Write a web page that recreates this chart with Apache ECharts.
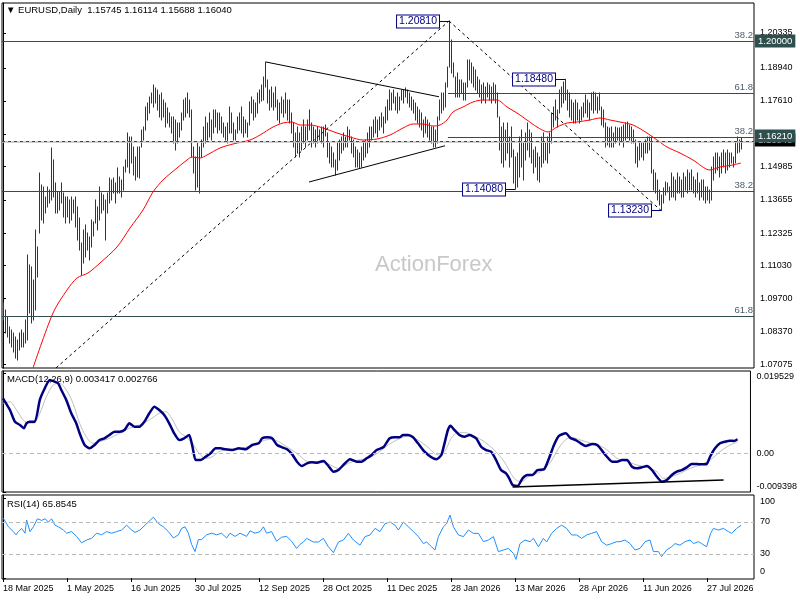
<!DOCTYPE html>
<html><head><meta charset="utf-8">
<script src="https://cdn.jsdelivr.net/npm/echarts@6/dist/echarts.min.js"></script>
<style>html,body{margin:0;padding:0;background:#fff}#c{width:800px;height:600px}</style>
</head><body><div id="c"></div><script>
// ---- daily bar highs / lows (EURUSD) ----
const highs = [
1.0953,1.0925,1.0897,1.0857,1.0845,1.0833,1.0817,1.0805,1.0833,1.0845,
1.0833,1.0885,1.1145,1.1105,1.1097,1.1045,1.1245,1.1177,1.1473,1.1425,
1.1417,1.1377,1.1417,1.1405,1.1573,1.1525,1.1433,1.1397,1.1397,1.1433,
1.1393,1.1377,1.1377,1.1365,1.1377,1.1365,1.1377,1.1337,1.1293,1.1193,
1.1245,1.1265,1.1233,1.1217,1.1285,1.1277,1.1365,1.1337,1.1417,1.1393,
1.1385,1.1365,1.1393,1.1453,1.1445,1.1453,1.1433,1.1493,1.1457,1.1445,
1.1497,1.1525,1.1633,1.1617,1.1617,1.1577,1.1537,1.1577,1.1577,1.1645,
1.1657,1.1737,1.1753,1.1777,1.1793,1.1825,1.1813,1.1805,1.1785,1.1793,
1.1765,1.1753,1.1733,1.1713,1.1697,1.1697,1.1685,1.1673,1.1673,1.1713,
1.1765,1.1773,1.1793,1.1765,1.1725,1.1577,1.1537,1.1593,1.1577,1.1605,
1.1657,1.1697,1.1673,1.1713,1.1685,1.1725,1.1725,1.1713,1.1713,1.1697,
1.1673,1.1657,1.1673,1.1737,1.1713,1.1673,1.1645,1.1697,1.1713,1.1737,
1.1697,1.1685,1.1673,1.1757,1.1777,1.1765,1.1753,1.1793,1.1805,1.1825,
1.1857,1.1917,1.1845,1.1805,1.1817,1.1793,1.1817,1.1765,1.1753,1.1777,
1.1765,1.1793,1.1765,1.1765,1.1713,1.1673,1.1633,1.1657,1.1633,1.1657,
1.1685,1.1657,1.1685,1.1725,1.1673,1.1657,1.1645,1.1657,1.1645,1.1657,
1.1657,1.1665,1.1633,1.1593,1.1577,1.1553,1.1525,1.1593,1.1605,1.1617,
1.1633,1.1617,1.1657,1.1645,1.1617,1.1605,1.1577,1.1565,1.1553,1.1577,
1.1593,1.1605,1.1633,1.1657,1.1657,1.1685,1.1697,1.1685,1.1697,1.1713,
1.1697,1.1737,1.1765,1.1805,1.1793,1.1805,1.1777,1.1793,1.1777,1.1805,
1.1805,1.1813,1.1805,1.1793,1.1777,1.1765,1.1753,1.1737,1.1725,1.1713,
1.1685,1.1697,1.1685,1.1673,1.1657,1.1657,1.1645,1.1697,1.1765,1.1793,
1.1793,1.1833,1.1897,1.2081,1.2005,1.1913,1.1857,1.1873,1.1845,1.1845,
1.1833,1.1833,1.1925,1.1925,1.1913,1.1897,1.1885,1.1857,1.1845,1.1825,
1.1833,1.1817,1.1833,1.1825,1.1817,1.1833,1.1825,1.1793,1.1697,1.1657,
1.1673,1.1645,1.1673,1.1617,1.1657,1.1565,1.1537,1.1553,1.1617,1.1645,
1.1593,1.1633,1.1673,1.1645,1.1633,1.1565,1.1577,1.1553,1.1537,1.1617,
1.1633,1.1593,1.1617,1.1633,1.1713,1.1737,1.1765,1.1725,1.1805,1.1817,
1.1837,1.1848,1.1805,1.1793,1.1765,1.1753,1.1765,1.1753,1.1725,1.1737,
1.1753,1.1785,1.1765,1.1753,1.1793,1.1797,1.1793,1.1777,1.1793,1.1737,
1.1725,1.1673,1.1657,1.1653,1.1657,1.1633,1.1657,1.1653,1.1653,1.1657,
1.1665,1.1673,1.1677,1.1665,1.1657,1.1645,1.1605,1.1577,1.1593,1.1593,
1.1593,1.1605,1.1617,1.1617,1.1617,1.1485,1.1473,1.1445,1.1405,1.1385,
1.1413,1.1437,1.1433,1.1417,1.1473,1.1457,1.1445,1.1473,1.1457,1.1445,
1.1473,1.1457,1.1485,1.1473,1.1485,1.1457,1.1445,1.1473,1.1433,1.1445,
1.1445,1.1417,1.1417,1.1405,1.1497,1.1537,1.1553,1.1553,1.1537,1.1553,
1.1565,1.1553,1.1565,1.1553,1.1553,1.1537,1.1593,1.1617,1.1605,1.16114
];
const lows = [
1.0885,1.0833,1.0817,1.0793,1.0777,1.0757,1.0733,1.0725,1.0765,1.0777,
1.0777,1.0793,1.0805,1.0913,1.0873,1.0885,1.0925,1.1057,1.1233,1.1285,
1.1273,1.1313,1.1337,1.1353,1.1365,1.1377,1.1313,1.1313,1.1325,1.1353,
1.1297,1.1273,1.1297,1.1273,1.1285,1.1313,1.1257,1.1205,1.1165,1.1065,
1.1113,1.1137,1.1165,1.1125,1.1177,1.1221,1.1273,1.1245,1.1285,1.1313,
1.1325,1.1205,1.1313,1.1353,1.1365,1.1393,1.1353,1.1393,1.1393,1.1377,
1.1405,1.1477,1.1497,1.1473,1.1513,1.1465,1.1445,1.1457,1.1453,1.1577,
1.1605,1.1645,1.1685,1.1713,1.1753,1.1737,1.1753,1.1725,1.1697,1.1685,
1.1697,1.1657,1.1673,1.1657,1.1633,1.1593,1.1565,1.1593,1.1617,1.1645,
1.1685,1.1697,1.1713,1.1697,1.1537,1.1473,1.1405,1.1417,1.1393,1.1537,
1.1577,1.1593,1.1605,1.1617,1.1605,1.1633,1.1657,1.1633,1.1645,1.1633,
1.1617,1.1605,1.1593,1.1633,1.1633,1.1605,1.1605,1.1633,1.1645,1.1633,
1.1617,1.1633,1.1617,1.1665,1.1713,1.1685,1.1697,1.1713,1.1753,1.1761,
1.1765,1.1817,1.1753,1.1725,1.1737,1.1725,1.1737,1.1685,1.1673,1.1713,
1.1697,1.1713,1.1685,1.1673,1.1633,1.1577,1.1537,1.1553,1.1537,1.1565,
1.1593,1.1577,1.1605,1.1645,1.1577,1.1593,1.1577,1.1593,1.1605,1.1593,
1.1577,1.1621,1.1537,1.1513,1.1497,1.1497,1.1465,1.1485,1.1525,1.1553,
1.1565,1.1577,1.1577,1.1605,1.1553,1.1537,1.1497,1.1497,1.1493,1.1497,
1.1525,1.1537,1.1553,1.1577,1.1605,1.1617,1.1633,1.1617,1.1645,1.1657,
1.1633,1.1673,1.1685,1.1725,1.1725,1.1753,1.1725,1.1713,1.1725,1.1765,
1.1753,1.1777,1.1753,1.1737,1.1725,1.1713,1.1685,1.1673,1.1657,1.1645,
1.1617,1.1633,1.1617,1.1605,1.1593,1.1577,1.1577,1.1593,1.1685,1.1713,
1.1725,1.1737,1.1817,1.1897,1.1873,1.1857,1.1777,1.1777,1.1777,1.1793,
1.1765,1.1765,1.1817,1.1845,1.1833,1.1817,1.1805,1.1793,1.1777,1.1753,
1.1765,1.1753,1.1777,1.1765,1.1753,1.1765,1.1753,1.1697,1.1565,1.1513,
1.1497,1.1525,1.1553,1.1497,1.1537,1.1433,1.1408,1.1417,1.1457,1.1497,
1.1445,1.1525,1.1565,1.1537,1.1513,1.1473,1.1497,1.1445,1.1437,1.1497,
1.1513,1.1525,1.1513,1.1553,1.1593,1.1657,1.1685,1.1657,1.1713,1.1737,
1.1753,1.1765,1.1725,1.1697,1.1685,1.1673,1.1673,1.1685,1.1673,1.1685,
1.1697,1.1713,1.1697,1.1685,1.1725,1.1713,1.1725,1.1713,1.1725,1.1665,
1.1657,1.1577,1.1585,1.1577,1.1577,1.1577,1.1593,1.1605,1.1585,1.1597,
1.1577,1.1605,1.1613,1.1605,1.1593,1.1593,1.1513,1.1497,1.1525,1.1537,
1.1525,1.1553,1.1553,1.1565,1.1473,1.1405,1.1393,1.1365,1.1345,1.1323,
1.1353,1.1385,1.1397,1.1365,1.1377,1.1377,1.1365,1.1393,1.1393,1.1377,
1.1377,1.1405,1.1393,1.1405,1.1405,1.1393,1.1377,1.1393,1.1365,1.1377,
1.1365,1.1353,1.1365,1.1353,1.1365,1.1445,1.1473,1.1485,1.1457,1.1473,
1.1497,1.1473,1.1485,1.1497,1.1513,1.1497,1.1513,1.1553,1.1557,1.15688
];
// ---- moving average (red) [bar index, price] ----
const maLine = [[15,1.0693],[25,1.0913],[32,1.1005],[37,1.1053],[42.5,1.1073],[48.5,1.1113],[57,1.1177],[63.5,1.1253],[70,1.1325],[75,1.1397],[80,1.1445],[87,1.1493],[92,1.1525],[94.5,1.1537],[98.5,1.1533],[102,1.1545],[108.5,1.1573],[115,1.1589],[123.5,1.1605],[128.5,1.1625],[135,1.1657],[140,1.1673],[144.5,1.1677],[148.5,1.1665],[153.5,1.1665],[160,1.1653],[167,1.1633],[173.5,1.1617],[180,1.1605],[187,1.1609],[193.5,1.1625],[200,1.1653],[205,1.1669],[210,1.1669],[215,1.1661],[218.5,1.1665],[222,1.1685],[225,1.1717],[230,1.1737],[235,1.1757],[240,1.1765],[247,1.1765],[252,1.1737],[257,1.1713],[262,1.1685],[267,1.1657],[272.5,1.1637],[277,1.1657],[282,1.1673],[287,1.1677],[293.5,1.1685],[298.5,1.1693],[303.5,1.1685],[308.5,1.1677],[315,1.1665],[322,1.1633],[327,1.1605],[332,1.1577],[338.5,1.1553],[345,1.1525],[353.5,1.1485],[358.5,1.1497],[365,1.1505],[369,1.1513]];
// ---- MACD(12,26,9) main & signal ----
const macdLine = [[0,0.01337],[3.5,0.01052],[6,0.00768],[8.5,0.00688],[10.5,0.00608],[11.8,0.00729],[13.5,0.00768],[16,0.00768],[18.5,0.01296],[21,0.0158],[23.5,0.01782],[26,0.0174],[27.7,0.01701],[29.3,0.01539],[31.8,0.01296],[34.3,0.00972],[36.8,0.00729],[38.5,0.00486],[41,0.00202],[43.5,0.00122],[46,0.00202],[48.5,0.00323],[51,0.00365],[53.5,0.00445],[56,0.00525],[58.5,0.00525],[61,0.00566],[63.5,0.00729],[66,0.00647],[68.5,0.00647],[71,0.00768],[73.5,0.00972],[76,0.01133],[78.5,0.01052],[81,0.00931],[83.5,0.00729],[86,0.00486],[88.5,0.00323],[91,0.00365],[93.5,0.00445],[95.2,0.0016],[96.8,-0.00163],[99.3,-0.00163],[101.8,-0.00083],[104.3,0],[106.8,0.00122],[109.3,0.00122],[111.8,0.00097],[115.2,0.0008],[118.5,0.00122],[121.8,0.00097],[125.2,0.00202],[128.5,0.00243],[130.2,0.00365],[132.7,0.00389],[135.2,0.00365],[137.7,0.00202],[140.2,0.00146],[142.7,0.00097],[145.2,-0.0002],[147.7,-0.00204],[150.2,-0.00309],[152.7,-0.00243],[155.2,-0.00219],[157.7,-0.00228],[161,-0.00187],[163.5,-0.00309],[166,-0.00447],[168.5,-0.00406],[171,-0.00284],[174.3,-0.00146],[177.7,-0.00204],[180.2,-0.00204],[182.7,-0.00122],[185.2,-0.00041],[187.7,0.0008],[191,0.00146],[194.3,0.00365],[196.8,0.00389],[199.3,0.00389],[201,0.00445],[203.5,0.00445],[206,0.00389],[208.5,0.00243],[211.8,0.00039],[215.2,-0.00097],[217.7,-0.00146],[220.2,-0.00041],[221.8,0.00243],[223.5,0.00566],[224.8,0.00671],[226.8,0.00566],[229.3,0.00445],[231.8,0.00404],[234.3,0.00445],[237.7,0.00365],[240.2,0.0016],[242.7,0.0008],[245.2,0.00039],[247.7,-0.00163],[250.2,-0.00406],[252.7,-0.00486],[254.3,-0.00608],[256,-0.00771],[258.5,-0.00795],[261,-0.00608],[263.5,-0.00527],[266,-0.00527],[268.5,-0.00406],[271.8,-0.00389],[274.3,-0.00122],[276.8,0.00202],[279.3,0.00421],[282.7,0.00486],[285.2,0.00365],[287.7,0.00323],[290.2,0.00243],[292.7,0.00177],[296,0.00226],[298.5,0.00202],[301,0.0006],[303.5,-0.0009],[306,-0.00204],[308.5,-0.00204],[311,-0.00163],[313.5,-0.00163],[316,-0.00326],[318.5,-0.00365],[321,-0.0034],[323.5,-0.00309],[326,-0.00406],[328.5,-0.00569],[331,-0.0069],[333.5,-0.00649],[336,-0.00527],[338.5,-0.00447],[341,-0.00406],[343.5,-0.0034],[346,-0.0026],[348.5,-0.0026],[351,-0.00267],[353.5,-0.0026],[355.2,-0.00083],[357.7,0.00122],[360.2,0.00243],[362.7,0.00282],[365.2,0.00306],[367.2,0.00299],[369,0.003417]];
const signalLine = [[0,0.01215],[3.5,0.01254],[6.8,0.01052],[11,0.00768],[15.2,0.00729],[18.5,0.00972],[21.8,0.01376],[25.2,0.0166],[28.5,0.01701],[31.8,0.01539],[35.2,0.01215],[38.5,0.00729],[41.8,0.00404],[45.2,0.00243],[48.5,0.00282],[53.5,0.00365],[58.5,0.00486],[63.5,0.00608],[68.5,0.00688],[73.5,0.00809],[78.5,0.00972],[81.8,0.01011],[85.2,0.00809],[88.5,0.00525],[91.8,0.00404],[95.2,0.00243],[98.5,0],[101.8,-0.00122],[105.2,-0.00083],[108.5,0.00039],[111.8,0.0008],[115.2,0.0008],[118.5,0.00097],[121.8,0.00146],[125.2,0.00202],[128.5,0.00258],[131.8,0.00323],[135.2,0.0034],[138.5,0.00282],[141.8,0.0018],[145.2,0.0008],[148.5,-0.0004],[153.5,-0.00204],[158.5,-0.00204],[163.5,-0.0026],[168.5,-0.00365],[173.5,-0.00243],[178.5,-0.00163],[183.5,-0.00122],[188.5,0.00015],[193.5,0.00202],[198.5,0.0034],[203.5,0.00421],[208.5,0.00323],[213.5,0.00146],[218.5,-0.00041],[221.8,0.00039],[225.2,0.00365],[228.5,0.00501],[232,0.00501],[236.8,0.00421],[241.8,0.00282],[246.8,0.0008],[251.8,-0.00204],[256.8,-0.00608],[260.2,-0.0069],[265.2,-0.00527],[270.2,-0.00447],[275.2,-0.00204],[280.2,0.00202],[285.2,0.00389],[290.2,0.00323],[295.2,0.00243],[300.2,0.00177],[303.5,0.0008],[308.5,-0.00122],[313.5,-0.00204],[318.5,-0.00284],[323.5,-0.0034],[328.5,-0.00447],[331.8,-0.00608],[335.2,-0.00583],[340.2,-0.00486],[345.2,-0.00365],[350.2,-0.00284],[355.2,-0.00163],[360.2,0.00039],[365.2,0.00202],[369,0.002766]];
const macdDivergence = [[256,-0.0082],[362,-0.0065]];
// ---- RSI(14) ----
const rsiLine = [[0.2,74.6],[2.7,64],[5.2,58],[6.5,54],[7.7,58],[9.3,62],[11,56],[11.8,72.5],[13.5,58],[15.2,64],[17.2,74],[19.3,72],[21,74],[22.7,70],[24.3,74],[26,66],[27.7,64],[30.2,60],[31.8,56],[34.3,58],[36.8,52],[39.3,44],[41.8,47.5],[44.3,49.6],[46.8,56],[49.3,54],[51.8,58],[54.3,56],[56.8,58],[59.3,60],[61.8,66],[64.3,60],[66,57],[68.5,60],[71,66],[73.5,72],[75.2,76],[77.7,68],[80.2,64],[82.7,58],[85.2,50],[87.7,54],[89.3,62],[91,64],[92.7,56],[94.3,42],[96,33],[97.7,48],[99.3,48],[101.8,54],[104.3,56],[106.8,54],[109.3,56],[111.8,50],[113.5,56],[116,52],[118.5,56],[121.8,52],[123.5,59],[126,56],[128.5,58],[130.2,64],[131.8,56],[134.3,58],[136.8,46],[139.3,51],[141.8,52],[144.3,46],[146.8,37],[148.5,42],[150.2,45],[151.8,49.6],[155.2,45],[157.7,45],[160.2,49.6],[162.7,39],[165.2,31.7],[167.7,45],[170.2,47.5],[172.7,55.8],[175.2,47.5],[178.5,41],[181,51.7],[183.5,53.8],[186,62],[188.5,58],[191,68],[193.5,70],[196,66],[197.7,60],[200.2,70],[202.7,64],[205.2,58],[207.7,51.7],[210.2,43],[211.8,45],[214.3,39],[216,35],[217.7,51.7],[220.2,64],[221.8,68],[223.5,78.7],[225.2,64],[227.7,53.8],[230.2,51.7],[232.7,60],[235.2,55.8],[237.7,55.8],[240.2,45.4],[242.7,47.5],[245.2,51.7],[247.7,33],[250.2,35],[252.7,37],[255.2,30.8],[256.5,23.3],[258.5,43],[261,47.5],[263.5,45.4],[265.2,49.6],[267.7,39],[270.2,49.6],[271.8,45],[274.3,55.8],[276.8,62],[279.3,66],[281.8,62],[284.3,53.8],[286.8,53.8],[289.3,49.6],[291.8,53.8],[294.3,55.8],[296.8,58],[299.3,45.4],[301.8,41],[304.3,43],[306.8,45.4],[308.5,45.4],[311,47.5],[313.5,43],[316,35],[318.5,37],[321,45.4],[323.5,47.5],[325.2,33],[327.7,33],[329.3,26.7],[331.8,35],[334.3,39],[336,43],[338.5,41],[341,45.4],[343.5,47.5],[345.2,43],[347.7,45.4],[349.3,43],[351.8,39],[353.8,55.8],[355.2,62],[357.7,60],[360.2,62],[362.7,58],[364.3,55.8],[366.8,62],[369,65.85]];
// ---- axis ticks / labels ----
const dateIdx = [0,32,64,96,128,160,192,224,256,288,320,352];
const dateLabels = ['18 Mar 2025','1 May 2025','16 Jun 2025','30 Jul 2025','12 Sep 2025','28 Oct 2025','11 Dec 2025','28 Jan 2026','13 Mar 2026','28 Apr 2026','11 Jun 2026','27 Jul 2026'];
const priceTicks = [1.07075,1.0837,1.097,1.1103,1.12325,1.13655,1.14985,1.1628,1.1761,1.1894,1.20335];
const macdTicks = [0.019529, 0, -0.009398];
const rsiTicks = [100, 70, 30, 0];
const rsiLevels = [70, 30];
// ---- drawn objects ----
const fibFull = [1.2022, 1.1352, 1.0901];
const fibFullNames = ['38.2','38.2','61.8'];
const fibPart = [1.1793, 1.16142];
const fibPartNames = ['61.8','38.2'];
const fibPartStart = 222.5;
const roundLevel = 1.2000, markLevel = 1.1621, bidPrice = 1.1604;
const tagValues = [roundLevel, bidPrice, markLevel];
const tagColors = ['#2f4f4f', '#000000', '#2f4f4f'];
const swingIdx = [223, 281, 256, 329];
const swingVal = [1.2081, 1.1848, 1.1408, 1.1323];
const dashedTrends = [[[26.5,1.0693],[223,1.2081]], [[223,1.2081],[329,1.1323]]];
const solidTrends = [[[131.5,1.1917],[218,1.1778]], [[153,1.1437],[221,1.1582]]];
const titleText = '▼ EURUSD,Daily  1.15745 1.16114 1.15688 1.16040';
const macdTitle = 'MACD(12,26,9) 0.003417 0.002766';
const rsiTitle = 'RSI(14) 65.8545';

const FONT = '"Liberation Sans", "DejaVu Sans", Arial, sans-serif';
const XMIN = -0.5, XMAX = 375.5;
const barData = highs.map((h, i) => [i, lows[i], h]);

const fibLabel = (t) => ({show: true, position: 'insideEndTop', formatter: t, color: '#4d5d6d', fontSize: 9.5, fontFamily: FONT, distance: 1});
const mainMarks = [];
fibFull.forEach((v, i) => mainMarks.push({yAxis: v, lineStyle: {color: '#2f4f4f', type: 'solid', width: 1}, label: fibLabel(fibFullNames[i])}));
fibPart.forEach((v, i) => mainMarks.push([{coord: [fibPartStart, v], lineStyle: {color: '#2f4f4f', type: 'solid', width: 1}, label: fibLabel(fibPartNames[i])}, {coord: [XMAX, v]}]));
dashedTrends.forEach(t => mainMarks.push([{coord: t[0], lineStyle: {color: '#000', type: [3,3], width: 1}, label: {show: false}}, {coord: t[1]}]));
solidTrends.forEach(t => mainMarks.push([{coord: t[0], lineStyle: {color: '#000', type: 'solid', width: 1}, label: {show: false}}, {coord: t[1]}]));
mainMarks.push({yAxis: roundLevel, lineStyle: {color: '#2f4f4f', type: [3,3], width: 1}, label: {show: false}});
mainMarks.push({yAxis: bidPrice, lineStyle: {color: '#c0c0c0', type: 'solid', width: 1.5}, label: {show: false}});
mainMarks.push({yAxis: markLevel, lineStyle: {color: '#2f4f4f', type: [3,3], width: 1}, label: {show: false}});

const axisCommon = {type: 'value', position: 'right', splitLine: {show: false},
  axisLine: {show: true, lineStyle: {color: '#000', width: 1}}};
const lbl = {fontSize: 9, color: '#000', fontFamily: FONT};

const option = {
  animation: false,
  backgroundColor: '#fff',
  textStyle: {fontFamily: FONT},
  title: [
    {text: titleText, left: 6, top: 5, padding: 0, textStyle: {fontSize: 9.5, fontWeight: 'normal', color: '#000', fontFamily: FONT}},
    {text: macdTitle, left: 7, top: 374, padding: 0, textStyle: {fontSize: 9.5, fontWeight: 'normal', color: '#000', fontFamily: FONT}},
    {text: rsiTitle, left: 7, top: 499, padding: 0, textStyle: {fontSize: 9.5, fontWeight: 'normal', color: '#000', fontFamily: FONT}}
  ],
  graphic: [{type: 'text', left: 375, top: 254, z: 0, silent: true,
    style: {text: 'ActionForex', font: '22px "Liberation Sans", Arial, sans-serif', fill: '#c8c8c8'}}],
  grid: [
    {left: 2, top: 3, width: 752, height: 365, show: true, borderColor: '#000', borderWidth: 1, backgroundColor: 'transparent'},
    {left: 2, top: 371, width: 752, height: 121, show: true, borderColor: '#000', borderWidth: 1},
    {left: 2, top: 495, width: 752, height: 84, show: true, borderColor: '#000', borderWidth: 1}
  ],
  xAxis: [
    {gridIndex: 0, type: 'value', min: XMIN, max: XMAX, show: false},
    {gridIndex: 1, type: 'value', min: XMIN, max: XMAX, show: false},
    {gridIndex: 2, type: 'value', min: XMIN, max: XMAX, position: 'bottom', splitLine: {show: false},
      axisLine: {show: false},
      axisTick: {show: true, length: 4, customValues: dateIdx, lineStyle: {color: '#000'}},
      axisLabel: Object.assign({customValues: dateIdx, align: 'left', margin: 5,
        formatter: v => dateLabels[dateIdx.indexOf(Math.round(v))] || ''}, lbl)}
  ],
  yAxis: [
    Object.assign({}, axisCommon, {gridIndex: 0, min: 1.0693, max: 1.2153,
      axisTick: {show: true, length: 3, customValues: priceTicks, lineStyle: {color: '#000'}},
      axisLabel: Object.assign({customValues: priceTicks, margin: 6, formatter: v => v.toFixed(5)}, lbl)}),
    Object.assign({}, axisCommon, {gridIndex: 1, min: -0.0094, max: 0.0200,
      axisTick: {show: true, length: 3, customValues: macdTicks, lineStyle: {color: '#000'}},
      axisLabel: Object.assign({customValues: macdTicks, margin: 6,
        formatter: v => v === 0 ? '{m|0.00}' : (v > 0 ? '{t|' + v.toFixed(6) + '}' : '{b|' + v.toFixed(6) + '}'),
        rich: {t: {padding: [8,0,0,0], fontSize: 9, color: '#000', fontFamily: FONT},
               b: {padding: [0,0,10,0], fontSize: 9, color: '#000', fontFamily: FONT},
               m: {fontSize: 9, color: '#000', fontFamily: FONT}}}, lbl)}),
    Object.assign({}, axisCommon, {gridIndex: 2, min: -1.25, max: 103.75,
      axisTick: {show: true, length: 3, customValues: rsiTicks, lineStyle: {color: '#000'}},
      axisLabel: Object.assign({customValues: rsiTicks, margin: 6,
        formatter: v => v === 100 ? '{t|100}' : (v === 0 ? '{b|0}' : '{m|' + v + '}'),
        rich: {t: {padding: [8,0,0,0], fontSize: 9, color: '#000', fontFamily: FONT},
               b: {padding: [0,0,12,0], fontSize: 9, color: '#000', fontFamily: FONT},
               m: {fontSize: 9, color: '#000', fontFamily: FONT}}}, lbl)})
  ],
  series: [
    {type: 'custom', name: 'EURUSD', xAxisIndex: 0, yAxisIndex: 0, z: 3, data: barData,
      encode: {x: 0, y: [1, 2]},
      renderItem: (params, api) => {
        const hi = api.coord([api.value(0), api.value(2)]);
        const lo = api.coord([api.value(0), api.value(1)]);
        const x = Math.round(hi[0]) + 0.5;
        return {type: 'line', shape: {x1: x, y1: hi[1] - 0.5, x2: x, y2: lo[1] + 0.5},
          style: {stroke: '#123f5a', lineWidth: 1}};
      }},
    {type: 'line', name: 'MA', xAxisIndex: 0, yAxisIndex: 0, z: 4, data: maLine, symbol: 'none', smooth: 0.3,
      lineStyle: {color: '#ff0000', width: 1},
      markLine: {silent: true, symbol: ['none', 'none'], animation: false, data: mainMarks}},
    {type: 'custom', name: 'swings', xAxisIndex: 0, yAxisIndex: 0, z: 6,
      data: swingIdx.map((x, i) => [x, swingVal[i]]),
      renderItem: (params, api) => {
        const p = api.coord([api.value(0), api.value(1)]);
        const y = Math.round(p[1]) + 0.5;
        return {type: 'group', children: [
          {type: 'line', shape: {x1: p[0] - 10, y1: y, x2: p[0], y2: y}, style: {stroke: '#000080', lineWidth: 1}},
          {type: 'text', x: p[0] - 10, y: y, style: {text: api.value(1).toFixed(5), align: 'right', verticalAlign: 'middle',
            fill: '#000080', font: '10.5px "Liberation Sans", Arial, sans-serif', backgroundColor: '#fff',
            borderColor: '#000080', borderWidth: 1, padding: [1, 2, 0, 2]}}
        ]};
      }},
    {type: 'custom', name: 'priceTags', xAxisIndex: 0, yAxisIndex: 0, z: 10, clip: false,
      data: tagValues.map((v, i) => [XMAX, v, i]),
      renderItem: (params, api) => {
        const p = api.coord([api.value(0), api.value(1)]);
        const i = api.value(2);
        return {type: 'text', x: p[0] + 1, y: Math.round(p[1]), style: {text: tagValues[i].toFixed(5),
          align: 'left', verticalAlign: 'middle', fill: '#fff', font: '9.5px "Liberation Sans", Arial, sans-serif',
          backgroundColor: tagColors[i], padding: [2, 3, 1, 3]}};
      }},
    {type: 'line', name: 'Signal', xAxisIndex: 1, yAxisIndex: 1, data: signalLine, symbol: 'none', smooth: 0.3,
      lineStyle: {color: '#c0c0c0', width: 1},
      markLine: {silent: true, symbol: ['none', 'none'], animation: false, label: {show: false},
        data: [{yAxis: 0, lineStyle: {color: '#bbbbbb', type: [4,3], width: 1}}]}},
    {type: 'line', name: 'MACD', xAxisIndex: 1, yAxisIndex: 1, data: macdLine, symbol: 'none', smooth: 0.2,
      lineStyle: {color: '#000080', width: 2.5},
      markLine: {silent: true, symbol: ['none', 'none'], animation: false, label: {show: false},
        data: [[{coord: macdDivergence[0], lineStyle: {color: '#000', type: 'solid', width: 1.5}}, {coord: macdDivergence[1]}]]}},
    {type: 'line', name: 'RSI', xAxisIndex: 2, yAxisIndex: 2, data: rsiLine, symbol: 'none',
      lineStyle: {color: '#1e90ff', width: 1},
      markLine: {silent: true, symbol: ['none', 'none'], animation: false, label: {show: false},
        data: rsiLevels.map(v => ({yAxis: v, lineStyle: {color: '#bbbbbb', type: [4,3], width: 1}}))}}
  ]
};
const chart = echarts.init(document.getElementById('c'), null, {renderer: 'canvas'});
chart.setOption(option);
</script></body></html>
